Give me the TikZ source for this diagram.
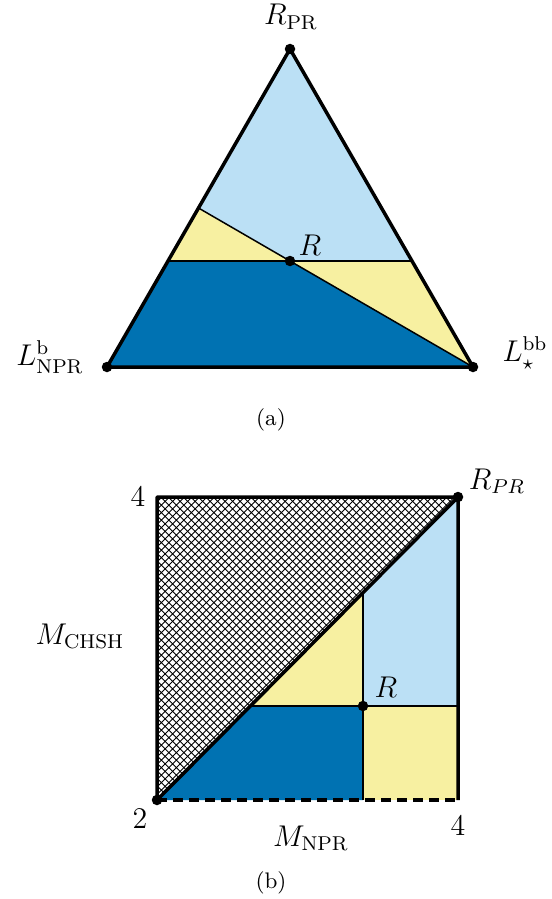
\documentclass[tikz,border=0pt]{standalone}
\usetikzlibrary{patterns}
\definecolor{lblue}{RGB}{187,224,245}
\definecolor{dblue}{RGB}{0,114,178}
\definecolor{pyellow}{RGB}{247,240,161}
\begin{document}
\begin{tikzpicture}[x=0.4pt,y=-0.4pt,
  thickline/.style={line width=1.4pt,line join=round},
  thinline/.style={line width=0.6pt},
  dot/.style={circle,fill=black,inner sep=0pt,minimum size=4.2pt},
  lbl/.style={inner sep=0pt,font=\large}]
\useasboundingbox (0,0) rectangle (552,899);
% ---------- (a) triangle ----------
\coordinate (T) at (290,49);
\coordinate (BL) at (107,367);
\coordinate (BR) at (473,367);
\coordinate (R) at (290,261);
\coordinate (HL) at (168,261);
\coordinate (HR) at (412,261);
\coordinate (DL) at (198.5,208);
\fill[lblue] (T) -- (HR) -- (R) -- (DL) -- cycle;
\fill[pyellow] (HL) -- (DL) -- (R) -- cycle;
\fill[pyellow] (R) -- (HR) -- (BR) -- cycle;
\fill[dblue] (BL) -- (BR) -- (R) -- (HL) -- cycle;
\draw[thinline] (HL) -- (HR);
\draw[thinline] (DL) -- (BR);
\draw[thickline] (T) -- (BL) -- (BR) -- cycle;
\node[dot] at (T) {};
\node[dot] at (BL) {};
\node[dot] at (BR) {};
\node[dot] at (R) {};
\node[lbl] (lRPR) at (291,17) {$R_{\mathrm{PR}}$};
\node[lbl] (lLb) at (50,357) {$L^{\mathrm{b}}_{\mathrm{NPR}}$};
\node[lbl] (lLbb) at (525,353) {$L^{\mathrm{bb}}_{\star}$};
\node[lbl] (lR) at (310,245) {$R$};
\node[inner sep=0pt] (capa) at (271,420) {\small (a)};
% ---------- (b) square ----------
\coordinate (SBL) at (157,800);
\coordinate (STL) at (157,497);
\coordinate (STR) at (458,497);
\coordinate (SBR) at (458,800);
\coordinate (SR) at (363,706);
\coordinate (VD) at (363,594);
\coordinate (HD) at (251,706);
\coordinate (HE) at (458,706);
\coordinate (VB) at (363,800);
\fill[pattern=crosshatch] (SBL) -- (STL) -- (STR) -- cycle;
\fill[lblue] (VD) -- (STR) -- (HE) -- (SR) -- cycle;
\fill[pyellow] (HD) -- (VD) -- (SR) -- cycle;
\fill[pyellow] (SR) -- (HE) -- (SBR) -- (VB) -- cycle;
\fill[dblue] (SBL) -- (HD) -- (SR) -- (VB) -- cycle;
\draw[thinline] (VD) -- (VB);
\draw[thinline] (HD) -- (HE);
\draw[thickline] (SBR) -- (STR) -- (STL) -- (SBL) -- (STR);
\draw[thickline,dash pattern=on 4pt off 2.4pt,line cap=butt] (SBL) -- (SBR);
\node[dot] at (SBL) {};
\node[dot] at (STR) {};
\node[dot] at (SR) {};
\node[lbl] (lRPRb) at (497,481) {$R_{PR}$};
\node[lbl] (lRb) at (386,687) {$R$};
\node[lbl] (l4a) at (138,497) {$4$};
\node[lbl] (l2) at (140,819) {$2$};
\node[lbl] (l4b) at (458,826) {$4$};
\node[lbl] (lMN) at (311,838) {$M_{\mathrm{NPR}}$};
\node[lbl] (lMC) at (80,636) {$M_{\mathrm{CHSH}}$};
\node[inner sep=0pt] (capb) at (271,883) {\small (b)};
\end{tikzpicture}
\end{document}
